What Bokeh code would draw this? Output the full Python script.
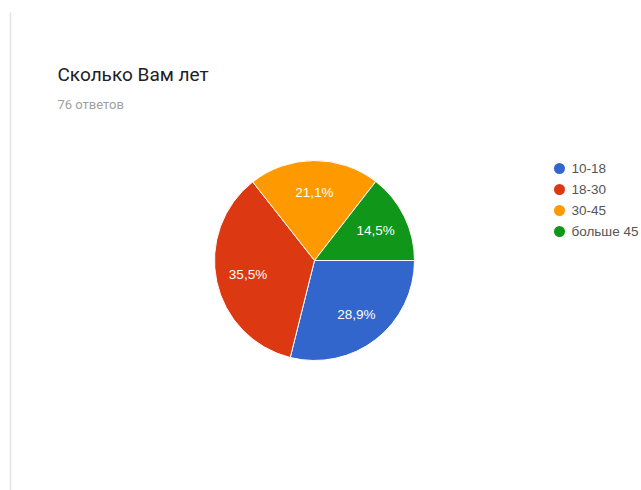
import math
from bokeh.plotting import figure
from bokeh.models import Range1d, ColumnDataSource
from bokeh.core.properties import value
from bokeh.embed import file_html
from bokeh.resources import INLINE

# ---- data ----
categories = ["10-18", "18-30", "30-45", "больше 45"]
shares = [28.9, 35.5, 21.1, 14.5]
colors = ["#3366cc", "#dc3912", "#ff9900", "#109618"]
title_text = "Сколько Вам лет"
subtitle_text = "76 ответов"

W, H = 641, 490

def Y(py):
    return H - py

p = figure(width=W, height=H, output_backend="svg", toolbar_location=None,
           x_range=Range1d(0, W), y_range=Range1d(0, H),
           min_border=0, x_axis_location=None, y_axis_location=None)
p.grid.visible = False
p.outline_line_color = None
p.background_fill_color = "white"
p.border_fill_color = "white"

# card left border
p.segment(x0=[10], y0=[Y(12)], x1=[10], y1=[Y(490)], line_color="#e3e3e3", line_width=1.5)

# title / subtitle
p.text(x=[57], y=[Y(74)], text=[title_text], text_font=value("Roboto"),
       text_font_size="19px", text_color="#202124", text_baseline="middle")
p.text(x=[57], y=[Y(104)], text=[subtitle_text], text_font=value("Roboto"),
       text_font_size="13px", text_color="#a0a0a0", text_baseline="middle")

# pie
cx, cy, R = 314, Y(260), 100
total = sum(shares)
starts, ends, lx, ly, labels = [], [], [], [], []
cum = 0.0
for s in shares:
    a0 = 2 * math.pi * cum / total
    a1 = 2 * math.pi * (cum + s) / total
    # clockwise from 3 o'clock
    starts.append(-a1)
    ends.append(-a0)
    mid = (a0 + a1) / 2
    lx.append(cx + 0.68 * R * math.cos(-mid))
    ly.append(cy + 0.68 * R * math.sin(-mid))
    labels.append(("%.1f%%" % s).replace(".", ","))
    cum += s

src = ColumnDataSource(dict(start=starts, end=ends, color=colors))
p.wedge(x=cx, y=cy, radius=R, start_angle="start", end_angle="end",
        fill_color="color", line_color="white", line_width=1, source=src)
p.text(x=lx, y=ly, text=labels, text_font=value("Liberation Sans"),
       text_font_size="13.5px", text_color="white", text_align="center",
       text_baseline="middle")

# legend
ly0 = [Y(168 + 21 * i) for i in range(len(categories))]
p.scatter(x=[559] * len(categories), y=ly0, size=11, marker="circle",
          fill_color=colors, line_color=None)
p.text(x=[571] * len(categories), y=ly0, text=categories,
       text_font=value("Liberation Sans"), text_font_size="13.5px",
       text_color="#555555", text_baseline="middle")

open("out.html", "w").write(file_html(p, INLINE))
